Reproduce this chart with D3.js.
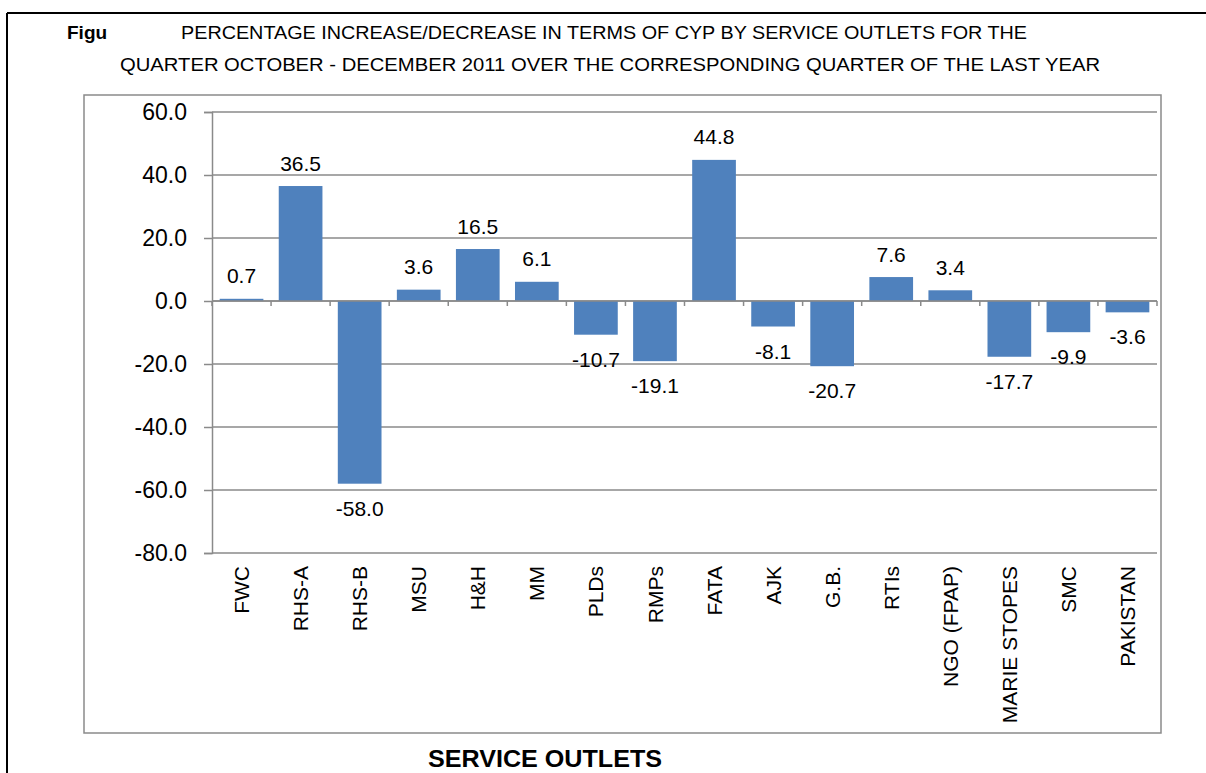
<!DOCTYPE html>
<html>
<head>
<meta charset="utf-8">
<script src="https://cdn.jsdelivr.net/npm/d3@7"></script>
<style>
  html, body { margin: 0; padding: 0; background: #fff; }
  svg { display: block; font-family: "Liberation Sans", Arial, sans-serif; }
</style>
</head>
<body>
<svg id="cypPlot" width="1206" height="773"></svg>
<script>
// data
const outlets = ["FWC", "RHS-A", "RHS-B", "MSU", "H&H", "MM", "PLDs", "RMPs", "FATA",
  "AJK", "G.B.", "RTIs", "NGO (FPAP)", "MARIE STOPES", "SMC", "PAKISTAN"];
const pctChange = [0.7, 36.5, -58.0, 3.6, 16.5, 6.1, -10.7, -19.1, 44.8,
  -8.1, -20.7, 7.6, 3.4, -17.7, -9.9, -3.6];
const yTicks = [60, 40, 20, 0, -20, -40, -60, -80];
const titleLines = [
  "PERCENTAGE INCREASE/DECREASE IN TERMS OF CYP BY SERVICE OUTLETS FOR THE",
  "QUARTER OCTOBER - DECEMBER  2011 OVER THE CORRESPONDING QUARTER OF THE LAST YEAR"
];

const svg = d3.select("#cypPlot");
const plot = { left: 212, right: 1157, top: 112, bottom: 553 };
const gridColor = "#8a8a8a";
const barColor = "#4f81bd";

// plain hyphen for negatives, like the original
const fmt = d3.formatLocale({ decimal: ".", thousands: ",", grouping: [3], currency: ["", ""], minus: "-" }).format(".1f");

// page frame (black, top + left)
svg.append("line").attr("x1", 7).attr("x2", 1206).attr("y1", 13).attr("y2", 13)
  .attr("stroke", "#000").attr("stroke-width", 2);
svg.append("line").attr("x1", 7).attr("x2", 7).attr("y1", 13).attr("y2", 773)
  .attr("stroke", "#000").attr("stroke-width", 2);

// titles
svg.append("text").attr("x", 67).attr("y", 39)
  .attr("font-size", 19).attr("font-weight", "bold").text("Figu");
svg.append("text").attr("x", 181).attr("y", 39)
  .attr("font-size", 19).attr("textLength", 846).attr("lengthAdjust", "spacingAndGlyphs")
  .text(titleLines[0]);
svg.append("text").attr("x", 120).attr("y", 71)
  .attr("font-size", 19).attr("textLength", 980).attr("lengthAdjust", "spacingAndGlyphs")
  .text(titleLines[1]);

// chart box
svg.append("rect").attr("x", 84).attr("y", 95).attr("width", 1077).attr("height", 638)
  .attr("fill", "none").attr("stroke", gridColor).attr("stroke-width", 1.5);

const x = d3.scaleBand().domain(outlets).range([plot.left, plot.right]).paddingInner(0.26).paddingOuter(0.13);
const y = d3.scaleLinear().domain([-80, 60]).range([plot.bottom, plot.top]);

const g = svg.append("g");

// gridlines
g.selectAll(".grid").data(yTicks).enter().append("line")
  .attr("class", "grid")
  .attr("x1", plot.left).attr("x2", plot.right)
  .attr("y1", (d) => y(d)).attr("y2", (d) => y(d))
  .attr("stroke", gridColor).attr("stroke-width", 1.5);

// y axis
const yAxis = g.append("g")
  .attr("transform", `translate(${plot.left},0)`)
  .call(d3.axisLeft(y).tickValues(yTicks).tickFormat(fmt).tickSize(8).tickPadding(17));
yAxis.select(".domain").attr("stroke", gridColor).attr("stroke-width", 1.5);
yAxis.selectAll(".tick line").attr("stroke", gridColor).attr("stroke-width", 1.5);
yAxis.selectAll(".tick text").attr("font-size", 23).attr("fill", "#000")
  .attr("font-family", "Liberation Sans, Arial, sans-serif");

// bars
g.selectAll(".bar").data(pctChange).enter().append("rect")
  .attr("class", "bar")
  .attr("x", (d, i) => x(outlets[i]))
  .attr("width", x.bandwidth())
  .attr("y", (d) => y(Math.max(0, d)))
  .attr("height", (d) => Math.abs(y(d) - y(0)))
  .attr("fill", barColor);

// category ticks on the zero line
const step = x.step();
const boundaries = d3.range(outlets.length + 1).map((i) => plot.left + i * step);
g.selectAll(".ctick").data(boundaries).enter().append("line")
  .attr("x1", (d) => d).attr("x2", (d) => d)
  .attr("y1", y(0)).attr("y2", y(0) + 5)
  .attr("stroke", gridColor).attr("stroke-width", 1.5);

// zero line
g.append("line").attr("x1", plot.left).attr("x2", plot.right)
  .attr("y1", y(0)).attr("y2", y(0))
  .attr("stroke", gridColor).attr("stroke-width", 1.5);

// value labels
g.selectAll(".val").data(pctChange).enter().append("text")
  .attr("x", (d, i) => x(outlets[i]) + x.bandwidth() / 2)
  .attr("y", (d) => (d >= 0 ? y(d) - 15.5 : y(d) + 32))
  .attr("text-anchor", "middle")
  .attr("font-size", 21)
  .text((d) => fmt(d));

// category labels (rotated)
g.selectAll(".cat").data(outlets).enter().append("text")
  .attr("transform", (d) => `translate(${x(d) + x.bandwidth() / 2},566) rotate(-90)`)
  .attr("text-anchor", "end")
  .attr("dy", "0.36em")
  .attr("font-size", 21)
  .text((d) => d);

// x axis title
svg.append("text").attr("x", 545).attr("y", 767)
  .attr("text-anchor", "middle").attr("font-size", 24).attr("font-weight", "bold")
  .attr("textLength", 234).attr("lengthAdjust", "spacingAndGlyphs")
  .text("SERVICE OUTLETS");
</script>
</body>
</html>
